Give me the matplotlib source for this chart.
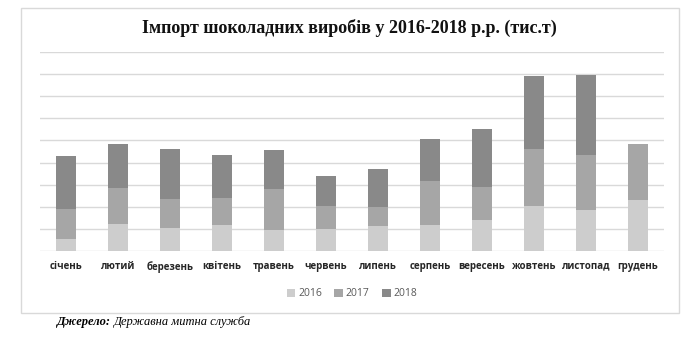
import numpy as np
import matplotlib.pyplot as plt
from matplotlib.patches import Rectangle

months = ['січень', 'лютий', 'березень', 'квітень', 'травень', 'червень',
          'липень', 'серпень', 'вересень', 'жовтень', 'листопад', 'грудень']
imp_2016 = [0.54, 1.22, 1.04, 1.18, 0.95, 1.00, 1.13, 1.18, 1.40, 2.04, 1.86, 2.31]
imp_2017 = [1.36, 1.63, 1.33, 1.22, 1.86, 1.04, 0.86, 1.99, 1.49, 2.58, 2.49, 2.53]
imp_2018 = [2.40, 1.99, 2.25, 1.95, 1.76, 1.36, 1.72, 1.90, 2.62, 3.30, 3.62, 0.00]
years = ['2016', '2017', '2018']
colors = ['#cdcdcd', '#a6a6a6', '#898989']

W, H = 689, 342
fig = plt.figure(figsize=(W / 100, H / 100), dpi=100)
fig.patch.set_facecolor('white')
# chart frame
fig.patches.append(Rectangle((21 / W, 29 / H), 658 / W, 305 / H,
                             transform=fig.transFigure, fill=False,
                             edgecolor='#d9d9d9', linewidth=1.0))

ax = fig.add_axes([40 / W, 91 / H, 624 / W, 199 / H])
x = np.arange(len(months))
bottom = np.zeros(len(months))
for vals, year, c in zip([imp_2016, imp_2017, imp_2018], years, colors):
    ax.bar(x, vals, width=0.4, bottom=bottom, color=c, label=year, zorder=3)
    bottom += np.array(vals)

ax.set_xlim(-0.5, len(months) - 0.5)
ax.set_ylim(0, 9)
ax.set_yticks(np.arange(0, 10, 1))
ax.yaxis.grid(True, color='#d9d9d9', linewidth=1.0, zorder=0)
ax.set_yticklabels([])
ax.tick_params(axis='y', length=0)
ax.tick_params(axis='x', length=0, pad=7)
for s in ax.spines.values():
    s.set_visible(False)
ax.set_xticks(x)
ax.set_xticklabels(months, fontsize=7, fontweight='bold', color='#262626',
                   family='Open Sans')

fig.text(349 / W, 1 - 28 / H, 'Імпорт шоколадних виробів у 2016-2018 р.р. (тис.т)',
         ha='center', va='center', fontsize=13, fontweight='bold',
         family='Liberation Serif', color='#111111')

ax.legend(loc='center', bbox_to_anchor=(0.5, -0.215), ncol=3, frameon=False,
          labelcolor='#595959', handlelength=0.8, handleheight=0.8,
          handletextpad=0.3, columnspacing=1.2, prop={'family': 'Open Sans', 'size': 7.5})

# source note: bold italic label followed by italic text
src_y = 1 - 322 / H
lbl = fig.text(57 / W, src_y, 'Джерело:', ha='left', va='center',
               fontsize=9, style='italic', fontweight='bold', family='Liberation Serif')
fig.canvas.draw()
bb = lbl.get_window_extent()
fig.text((bb.x1 + 3) / W, src_y, 'Державна митна служба', ha='left', va='center',
         fontsize=9, style='italic', family='Liberation Serif')

fig.savefig('out.png', dpi=100)
